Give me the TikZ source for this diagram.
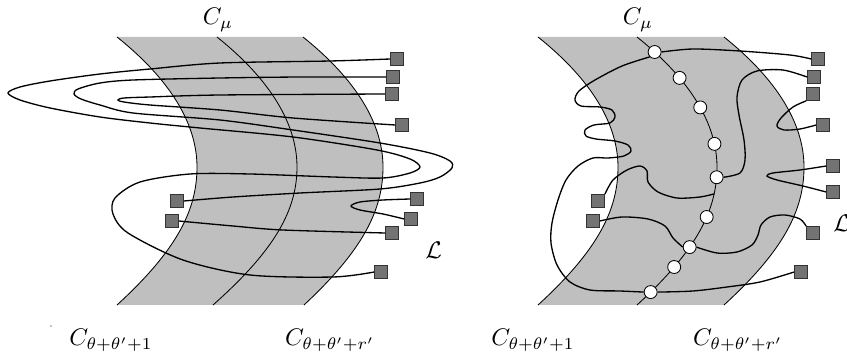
\documentclass[tikz,border=0pt]{standalone}
\begin{document}
\begin{tikzpicture}[x=0.4167pt,y=-0.4167pt,
  band/.style={fill=black!25,draw=none},
  bline/.style={line width=0.35pt,black},
  conn/.style={line width=0.55pt,black},
  sq/.style={rectangle,draw=black!80,fill=black!55,line width=0.3pt,minimum size=5.4pt,inner sep=0pt},
  pt/.style={circle,draw=black,fill=white,line width=0.35pt,minimum size=5.4pt,inner sep=0pt},
  lab/.style={inner sep=0pt,anchor=base}]
\useasboundingbox (0,0) rectangle (847,354);

% ---------- left panel band ----------
\fill[black!25] (117,37) .. controls (177,85) and (197,130) .. (197,167) .. controls (197,210) and (177,250) .. (117,305)
  -- (304,305) .. controls (363,250) and (383,210) .. (383,167) .. controls (383,130) and (363,85) .. (303,37) -- cycle;
\draw[bline] (117,37) .. controls (177,85) and (197,130) .. (197,167) .. controls (197,210) and (177,250) .. (117,305);
\draw[bline] (217,37) .. controls (277,85) and (297,130) .. (297,167) .. controls (297,210) and (275,250) .. (213,305);
\draw[bline] (303,37) .. controls (363,85) and (383,130) .. (383,167) .. controls (383,210) and (363,250) .. (304,305);

% ---------- right panel band ----------
\fill[black!25] (538,37) .. controls (598,85) and (618,130) .. (618,167) .. controls (618,210) and (598,250) .. (538,305)
  -- (724,305) .. controls (784,250) and (804,210) .. (804,167) .. controls (804,130) and (784,85) .. (724,37) -- cycle;
\draw[bline] (538,37) .. controls (598,85) and (618,130) .. (618,167) .. controls (618,210) and (598,250) .. (538,305);
\draw[bline] (724,37) .. controls (784,85) and (804,130) .. (804,167) .. controls (804,210) and (784,250) .. (724,305);

% ---------- left panel squares ----------
\node[sq] (as1) at (397,59) {};
\node[sq] (as2) at (393,77) {};
\node[sq] (as3) at (392,94) {};
\node[sq] (as4) at (402,125) {};
\node[sq] (as5) at (177,201) {};
\node[sq] (as6) at (172,221) {};
\node[sq] (as7) at (417,199) {};
\node[sq] (as8) at (411,219) {};
\node[sq] (as9) at (392,233) {};
\node[sq] (as10) at (381,272) {};

% ---------- left panel connectors ----------
\draw[conn] plot[smooth] coordinates {(as1.west) (330,61) (220,63) (150,69) (100,74) (50,81) (20,87) (8,93) (20,100) (50,108) (100,117) (150,123) (200,128) (293,137) (377,150) (410,159) (420,167) (410,173) (383,178) (333,177) (250,174) (190,174) (140,182) (115,198) (113,214) (128,233) (183,260) (250,275) (333,277) (as10.west)};
\draw[conn] plot[smooth] coordinates {(as2.west) (300,77) (220,78) (133,80) (100,83) (78,89) (74,94) (81,99) (100,105) (133,113) (220,120) (293,130) (380,143) (430,153) (450,161) (452,168) (440,177) (420,183) (380,189) (300,193) (233,197) (as5.east)};
\draw[conn] plot[smooth] coordinates {(as3.west) (220,95) (150,97) (124,98) (118,100) (124,102) (150,105) (220,110) (293,118) (as4.west)};
\draw[conn] plot[smooth] coordinates {(as7.west) (383,200) (360,202) (351,206) (360,210) (383,214) (as8.west)};
\draw[conn] plot[smooth] coordinates {(as6.east) (233,226) (283,230) (as9.west)};

% ---------- right panel middle line with points ----------
\draw[bline] (637,37) .. controls (697,85) and (717,130) .. (717,167)
   node[pt,pos=0.105] (bc1) {} node[pt,pos=0.29] (bc2) {} node[pt,pos=0.51] (bc3) {} node[pt,pos=0.8] (bc4) {}
   .. controls (717,210) and (697,250) .. (637,305)
   node[pt,pos=0.08] (bc5) {} coordinate[pos=0.21] (bm) node[pt,pos=0.39] (bc6) {} node[pt,pos=0.615] (bc7) {}
   node[pt,pos=0.755] (bc8) {} node[pt,pos=0.92] (bc9) {};

% ---------- right panel squares ----------
\node[sq] (bs1) at (818,59) {};
\node[sq] (bs2) at (814,77) {};
\node[sq] (bs3) at (813,94) {};
\node[sq] (bs4) at (823,125) {};
\node[sq] (bs5) at (833,166) {};
\node[sq] (bs6) at (833,192) {};
\node[sq] (bs7) at (598,201) {};
\node[sq] (bs8) at (593,221) {};
\node[sq] (bs9) at (813,233) {};
\node[sq] (bs10) at (801,272) {};

% ---------- right panel connectors ----------
\draw[conn] plot[smooth] coordinates {(bc1.east) (693,49) (740,51) (790,55) (bs1.west)};
\draw[conn] plot[smooth] coordinates {(bc1.south west) (622,66) (595,80) (579,91) (575,100) (581,106) (600,107) (612,110) (615,117) (610,123) (594,125) (585,130) (586,136) (596,139) (615,141) (628,145) (631,151) (624,156) (608,158) (593,158) (578,166) (566,180) (558,200) (552,223) (551,243) (557,265) (570,282) (590,290) (620,291) (bc9.west)};
\draw[conn] plot[smooth] coordinates {(bs7.north east) (613,180) (627,170) (640,166) (647,171) (648,182) (658,192) (677,198) (700,197) (bm)};
\draw[conn] plot[smooth] coordinates {(bc5.east) (740,173) (745,160) (744,140) (739,115) (737,97) (742,80) (757,71) (783,70) (bs2.west)};
\draw[conn] plot[smooth] coordinates {(bs3.south west) (793,107) (781,118) (777,126) (784,130) (800,129) (bs4.west)};
\draw[conn] plot[smooth] coordinates {(bs5.west) (800,170) (773,173) (767,176) (777,180) (803,186) (bs6.west)};
\draw[conn] plot[smooth] coordinates {(bs8.east) (622,217) (648,219) (665,226) (673,238) (bc7.west)};
\draw[conn] plot[smooth] coordinates {(bc7.east) (717,253) (737,252) (752,245) (758,235) (761,225) (770,217) (785,215) (800,219) (bs9.north west)};
\draw[conn] plot[smooth] coordinates {(bc9.east) (693,291) (727,287) (760,282) (bs10.west)};

% ---------- labels ----------
\node[lab] (lmu) at (218,25) {$C_\mu$};
\node[lab] (rmu) at (638,25) {$C_\mu$};
\node[lab] (l1) at (111,346) {$C_{\theta+\theta'+1}$};
\node[lab] (l2) at (330,346) {$C_{\theta+\theta'+r'}$};
\node[lab] (r1) at (533,346) {$C_{\theta+\theta'+1}$};
\node[lab] (r2) at (738,346) {$C_{\theta+\theta'+r'}$};
\node[inner sep=0pt,anchor=base west] (lL) at (425,259) {$\mathcal{L}$};
\node[inner sep=0pt,anchor=base west] (rL) at (833,232) {$\mathcal{L}$};
\fill (51,326) circle (0.6);
\end{tikzpicture}
\end{document}
